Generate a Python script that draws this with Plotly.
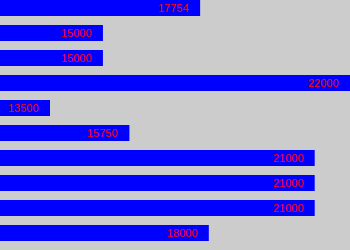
import plotly.graph_objects as go

values = [17754, 15000, 15000, 22000, 13500, 15750, 21000, 21000, 21000, 18000]
labels = [str(v) for v in values]
positions = list(range(len(values)))

fig = go.Figure()
fig.add_trace(go.Bar(
    x=values, y=positions, orientation="h", width=0.64,
    marker=dict(color="#0000ff", line=dict(width=0)),
    hoverinfo="skip",
))
for v, p, t in zip(values, positions, labels):
    fig.add_annotation(x=v, y=p, text=t, showarrow=False, xanchor="right",
                       yanchor="middle", xshift=-9,
                       font=dict(family="Liberation Sans", size=11, color="#ff0000"))

vmin, vmax = min(values), max(values)
fig.update_layout(
    width=350, height=250, margin=dict(l=0, r=0, t=0, b=0),
    paper_bgcolor="#cccccc", plot_bgcolor="#cccccc",
    showlegend=False,
    xaxis=dict(range=[vmin - (vmax - vmin) / 6, vmax], visible=False, fixedrange=True),
    yaxis=dict(range=[9.68, -0.32], visible=False, fixedrange=True),
)
fig.write_html("out.html", config={"displayModeBar": False})
